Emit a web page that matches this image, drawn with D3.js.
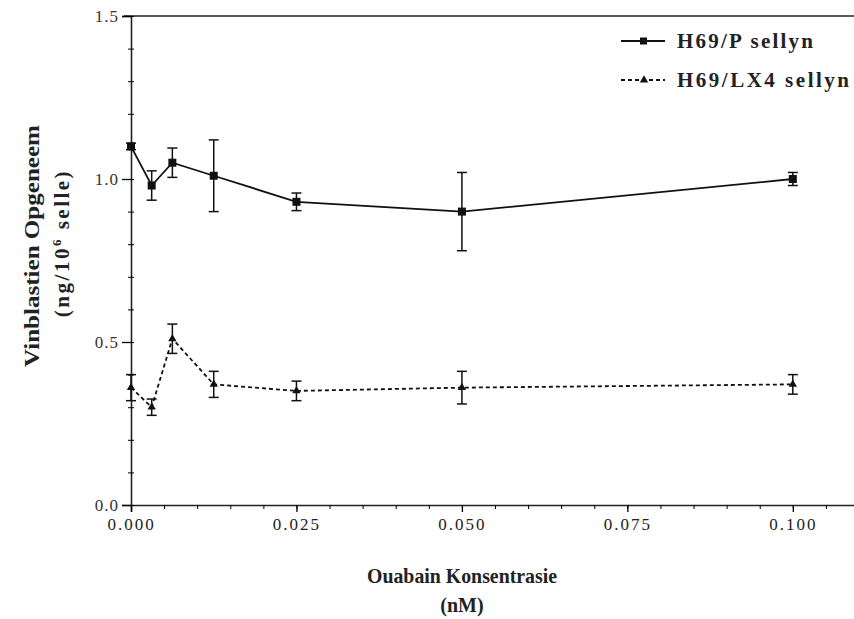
<!DOCTYPE html>
<html>
<head>
<meta charset="utf-8">
<script src="https://cdn.jsdelivr.net/npm/d3@7"></script>
<style>
  body { margin: 0; background: #fff; }
</style>
</head>
<body>
<svg width="854" height="619"></svg>
<script>
// concentrations (nM) and uptake values
const concentrations = [0, 0.003125, 0.00625, 0.0125, 0.025, 0.05, 0.1];
const parentalMean = [1.10, 0.98, 1.05, 1.01, 0.93, 0.90, 1.00];
const parentalErr  = [0.01, 0.045, 0.045, 0.11, 0.027, 0.12, 0.02];
const resistantMean = [0.36, 0.30, 0.51, 0.37, 0.35, 0.36, 0.37];
const resistantErr  = [0.04, 0.025, 0.045, 0.04, 0.03, 0.05, 0.03];
const xTicks = [0, 0.025, 0.05, 0.075, 0.1];
const yTicks = [0, 0.5, 1.0, 1.5];
const seriesNames = ["H69/P sellyn", "H69/LX4 sellyn"];

(function() {
  const FONT = "'Liberation Serif', 'Times New Roman', serif";
  let svg = d3.select("svg").attr("font-family", FONT);
  let x = d3.scaleLinear().domain([0, 0.11]).range([131, 859]);
  let y = d3.scaleLinear().domain([0, 1.5]).range([505, 16]);

  let series = [
    { name: seriesNames[0], mean: parentalMean, err: parentalErr, dash: null, marker: "square", len: 136 },
    { name: seriesNames[1], mean: resistantMean, err: resistantErr, dash: "4,3", marker: "triangle", len: 172 }
  ];

  // top frame line
  svg.append("line")
    .attr("x1", 124).attr("x2", 854)
    .attr("y1", y(1.5)).attr("y2", y(1.5))
    .attr("stroke", "#222").attr("stroke-width", 1.6);

  // x axis, major + minor
  let xAxis = svg.append("g")
    .attr("transform", "translate(0," + y(0) + ")")
    .call(d3.axisBottom(x).tickValues(xTicks).tickSize(7).tickPadding(6)
      .tickFormat(d3.format(".3f")));
  xAxis.attr("font-family", FONT);
  xAxis.select(".domain").attr("stroke-width", 1.6).attr("stroke", "#222");
  xAxis.selectAll(".tick line").attr("stroke-width", 1.3);
  xAxis.selectAll("text").attr("font-size", 17).attr("letter-spacing", 2).attr("fill", "#222");
  svg.append("g")
    .attr("transform", "translate(0," + y(0) + ")")
    .call(d3.axisBottom(x).tickValues(d3.range(0, 0.1101, 0.005)).tickSize(4).tickFormat(""))
    .select(".domain").remove();

  // y axis, major + minor
  let yAxis = svg.append("g")
    .attr("transform", "translate(" + x(0) + ",0)")
    .call(d3.axisLeft(y).tickValues(yTicks).tickSize(9).tickPadding(3)
      .tickFormat(d3.format(".1f")));
  yAxis.attr("font-family", FONT);
  yAxis.select(".domain").attr("stroke-width", 1.6).attr("stroke", "#222");
  yAxis.selectAll(".tick line").attr("stroke-width", 1.3);
  yAxis.selectAll("text").attr("font-size", 17).attr("letter-spacing", 1).attr("fill", "#333");
  svg.append("g")
    .attr("transform", "translate(" + (x(0) + 3) + ",0)")
    .call(d3.axisLeft(y).tickValues(d3.range(0, 1.501, 0.1)).tickSize(6).tickFormat(""))
    .select(".domain").remove();

  // axis titles
  svg.append("text")
    .attr("transform", "translate(39,246) rotate(-90)")
    .attr("text-anchor", "middle")
    .attr("font-size", 22).attr("font-weight", "bold").attr("fill", "#222")
    .attr("textLength", 242).attr("lengthAdjust", "spacingAndGlyphs")
    .text("Vinblastien Opgeneem");
  let yt2 = svg.append("text")
    .attr("transform", "translate(69,243) rotate(-90)")
    .attr("text-anchor", "middle")
    .attr("font-size", 21).attr("font-weight", "bold").attr("letter-spacing", 2.5)
    .attr("fill", "#222");
  yt2.append("tspan").text("(ng/10");
  yt2.append("tspan").attr("font-size", 13).attr("dy", -8).text("6");
  yt2.append("tspan").attr("dy", 8).text(" selle)");

  svg.append("text")
    .attr("x", 462).attr("y", 583)
    .attr("text-anchor", "middle")
    .attr("font-size", 21).attr("font-weight", "bold").attr("fill", "#222")
    .attr("textLength", 190).attr("lengthAdjust", "spacingAndGlyphs")
    .text("Ouabain Konsentrasie");
  svg.append("text")
    .attr("x", 462).attr("y", 612)
    .attr("text-anchor", "middle")
    .attr("font-size", 20).attr("font-weight", "bold").attr("fill", "#222")
    .text("(nM)");

  let line = d3.line()
    .x(function(d, i) { return x(concentrations[i]); })
    .y(function(d) { return y(d); });

  let triangle = d3.symbol().type(d3.symbolTriangle).size(30);

  series.forEach(function(s) {
    let g = svg.append("g");

    g.append("path")
      .datum(s.mean)
      .attr("fill", "none")
      .attr("stroke", "#111")
      .attr("stroke-width", 1.8)
      .attr("stroke-dasharray", s.dash)
      .attr("d", line);

    // error bars
    let eb = g.selectAll(".eb")
      .data(s.mean)
      .enter()
      .append("g")
      .attr("class", "eb");
    eb.append("line")
      .attr("x1", function(d, i) { return x(concentrations[i]); })
      .attr("x2", function(d, i) { return x(concentrations[i]); })
      .attr("y1", function(d, i) { return y(d - s.err[i]); })
      .attr("y2", function(d, i) { return y(d + s.err[i]); })
      .attr("stroke", "#111").attr("stroke-width", 1.5);
    [-1, 1].forEach(function(sign) {
      eb.append("line")
        .attr("x1", function(d, i) { return x(concentrations[i]) - 5; })
        .attr("x2", function(d, i) { return x(concentrations[i]) + 5; })
        .attr("y1", function(d, i) { return y(d + sign * s.err[i]); })
        .attr("y2", function(d, i) { return y(d + sign * s.err[i]); })
        .attr("stroke", "#111").attr("stroke-width", 1.5);
    });

    // markers
    if (s.marker === "square") {
      g.selectAll(".mk")
        .data(s.mean)
        .enter()
        .append("rect")
        .attr("x", function(d, i) { return x(concentrations[i]) - 4; })
        .attr("y", function(d) { return y(d) - 4; })
        .attr("width", 8).attr("height", 8)
        .attr("fill", "#111");
    } else {
      g.selectAll(".mk")
        .data(s.mean)
        .enter()
        .append("path")
        .attr("d", triangle)
        .attr("transform", function(d, i) {
          return "translate(" + x(concentrations[i]) + "," + y(d) + ")";
        })
        .attr("fill", "#111");
    }
  });

  // legend
  let legend = svg.append("g");
  let legendY = [41, 80];
  series.forEach(function(s, i) {
    legend.append("line")
      .attr("x1", 621).attr("x2", 665)
      .attr("y1", legendY[i]).attr("y2", legendY[i])
      .attr("stroke", "#111").attr("stroke-width", 1.8)
      .attr("stroke-dasharray", s.dash);
    if (s.marker === "square") {
      legend.append("rect")
        .attr("x", 640).attr("y", legendY[i] - 3.5)
        .attr("width", 7).attr("height", 7).attr("fill", "#111");
    } else {
      legend.append("path")
        .attr("d", triangle)
        .attr("transform", "translate(644," + legendY[i] + ")")
        .attr("fill", "#111");
    }
    legend.append("text")
      .attr("x", 677).attr("y", legendY[i] + 7)
      .attr("font-size", 21).attr("font-weight", "bold").attr("fill", "#222")
      .attr("textLength", s.len).attr("lengthAdjust", "spacing")
      .text(s.name);
  });
})();
</script>
</body>
</html>
